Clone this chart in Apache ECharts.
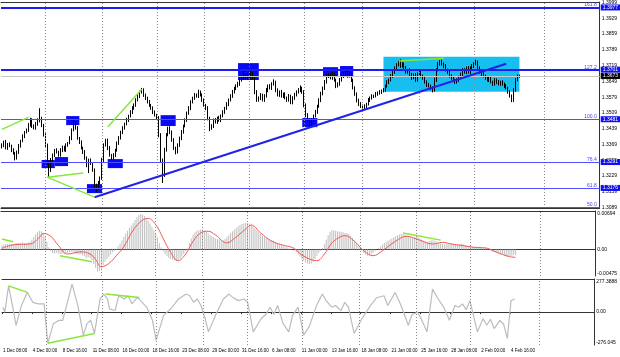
<!DOCTYPE html>
<html><head><meta charset="utf-8">
<script src="https://cdn.jsdelivr.net/npm/echarts@6/dist/echarts.min.js"></script>
<style>html,body{margin:0;padding:0;background:#fff}#c{width:620px;height:357px}</style>
</head><body><div id="c"></div>
<script>
// ---------- data ----------
const timeLabels = ['1 Dec 08:00','4 Dec 00:00','8 Dec 16:00','11 Dec 08:00','16 Dec 00:00','18 Dec 16:00','23 Dec 08:00','29 Dec 00:00','31 Dec 16:00','6 Jan 08:00','11 Jan 00:00','13 Jan 16:00','18 Jan 08:00','21 Jan 00:00','25 Jan 16:00','28 Jan 08:00','2 Feb 00:00','4 Feb 16:00'];
const priceTicks = [1.3089,1.3159,1.3229,1.3299,1.3369,1.3439,1.3509,1.3579,1.3649,1.3719,1.3789,1.3859,1.3929,1.3999];
const macdTickLabels = ['-0.00475','0.00','0.00694'];
const macdRange = [-0.00475, 0.00694];
const cciTickLabels = ['-276.045','0.00','277.3888'];
const cciRange = [-276.045, 277.3888];
const priceRange = [1.3087, 1.4001];

const firstOpen = 1.3358;
const close = [1.3366,1.3380,1.3353,1.3371,1.3362,1.3344,1.3331,1.3308,1.3335,1.3362,
1.3384,1.3406,1.3424,1.3433,1.3455,1.3477,1.3451,1.3442,1.3459,1.3473,
1.3486,1.3455,1.3411,1.3366,1.3291,1.3255,1.3300,1.3322,1.3344,1.3335,
1.3322,1.3344,1.3357,1.3344,1.3366,1.3375,1.3397,1.3433,1.3464,1.3442,
1.3397,1.3380,1.3353,1.3335,1.3308,1.3277,1.3300,1.3286,1.3255,1.3189,
1.3175,1.3198,1.3220,1.3300,1.3366,1.3388,1.3353,1.3322,1.3308,1.3322,
1.3344,1.3375,1.3397,1.3424,1.3442,1.3459,1.3477,1.3495,1.3513,1.3530,
1.3544,1.3566,1.3584,1.3602,1.3610,1.3588,1.3575,1.3557,1.3544,1.3530,
1.3513,1.3499,1.3486,1.3411,1.3300,1.3233,1.3344,1.3411,1.3442,1.3424,
1.3388,1.3353,1.3335,1.3366,1.3397,1.3424,1.3451,1.3477,1.3508,1.3530,
1.3557,1.3575,1.3588,1.3584,1.3602,1.3588,1.3566,1.3544,1.3530,1.3486,
1.3442,1.3451,1.3477,1.3468,1.3486,1.3477,1.3495,1.3513,1.3530,1.3548,
1.3566,1.3584,1.3602,1.3619,1.3628,1.3637,1.3655,1.3664,1.3673,1.3664,
1.3677,1.3668,1.3681,1.3664,1.3602,1.3566,1.3575,1.3588,1.3566,1.3584,
1.3610,1.3628,1.3619,1.3637,1.3646,1.3610,1.3588,1.3602,1.3584,1.3593,
1.3575,1.3566,1.3584,1.3557,1.3575,1.3588,1.3602,1.3610,1.3619,1.3602,
1.3544,1.3499,1.3477,1.3459,1.3477,1.3495,1.3513,1.3539,1.3566,1.3593,
1.3619,1.3646,1.3673,1.3677,1.3664,1.3681,1.3655,1.3628,1.3637,1.3655,
1.3673,1.3681,1.3690,1.3673,1.3681,1.3655,1.3619,1.3593,1.3566,1.3548,
1.3539,1.3530,1.3539,1.3548,1.3566,1.3575,1.3584,1.3584,1.3593,1.3597,
1.3602,1.3606,1.3610,1.3628,1.3646,1.3655,1.3673,1.3690,1.3708,1.3721,
1.3735,1.3717,1.3726,1.3708,1.3690,1.3699,1.3677,1.3664,1.3677,1.3655,
1.3681,1.3690,1.3673,1.3664,1.3646,1.3633,1.3628,1.3619,1.3610,1.3655,
1.3699,1.3726,1.3735,1.3726,1.3717,1.3699,1.3690,1.3673,1.3664,1.3655,
1.3646,1.3655,1.3664,1.3681,1.3699,1.3690,1.3708,1.3690,1.3708,1.3717,
1.3726,1.3735,1.3708,1.3690,1.3681,1.3673,1.3664,1.3655,1.3664,1.3646,
1.3637,1.3655,1.3646,1.3637,1.3646,1.3637,1.3628,1.3619,1.3602,1.3584,
1.3566,1.3610,1.3655,1.3673,1.3673];
// wick lengths in pips above the body / below the body
const wickUpPips = [8,6,9,5,7,6,8,5,7,9,6,8,5,7,9,10,8,7,10,12,44,6,5,8,7,
6,9,7,5,8,6,9,7,6,8,5,9,7,12,6,8,5,7,6,9,8,6,7,5,8,
6,9,7,10,8,6,7,9,5,8,6,7,9,6,8,7,10,6,8,9,7,8,9,6,10,
8,7,6,9,5,8,7,6,9,8,7,10,9,6,8,7,9,6,8,7,9,6,8,7,9,
8,6,9,7,10,6,8,7,5,9,6,8,7,9,6,10,7,8,6,9,7,8,9,6,8,
10,9,7,25,8,9,10,20,11,6,8,7,9,6,8,10,7,9,8,12,6,8,7,9,6,
8,7,9,6,8,10,7,9,12,6,8,7,9,6,8,7,9,6,8,10,7,9,8,10,7,
9,8,6,8,9,7,10,8,9,10,7,6,8,7,6,9,7,8,6,9,7,8,6,9,7,
8,7,9,6,8,7,9,10,8,9,6,12,8,7,9,6,8,10,7,9,8,7,9,6,8,
7,9,6,8,10,8,9,8,10,7,9,6,8,7,9,6,8,10,7,9,8,7,9,8,9,
8,10,6,8,7,9,6,8,7,9,6,8,7,9,6,8,7,9,6,8,7,9,8,7,6];
const wickDnPips = [7,9,6,8,5,9,7,10,6,8,7,5,9,6,8,7,9,6,8,7,6,9,7,8,10,
31,8,7,9,6,8,7,9,6,8,7,5,9,6,8,7,9,6,8,7,9,35,8,7,10,
17,9,7,8,10,6,9,7,8,6,9,7,8,6,9,7,5,8,6,9,7,8,6,9,7,
8,9,6,8,7,9,6,8,10,9,35,8,7,6,9,7,8,10,6,8,9,7,6,8,7,
9,6,8,7,9,6,8,7,9,10,14,8,9,6,8,7,9,6,8,7,9,6,8,7,9,
6,8,7,9,6,8,7,9,6,10,8,7,9,6,8,7,9,6,8,7,9,6,8,7,9,
6,8,7,9,10,8,6,7,9,8,10,9,8,13,7,9,6,8,7,9,6,8,7,9,6,
8,7,9,6,8,7,9,6,8,7,9,6,8,10,9,8,17,7,9,6,8,7,9,6,8,
7,9,6,8,7,9,6,8,7,9,6,8,7,9,6,8,7,9,6,8,7,9,6,8,7,
9,6,8,10,7,9,6,8,7,9,6,8,7,9,6,8,7,9,6,8,7,9,6,8,7,
9,6,8,7,9,6,8,7,9,6,8,7,9,6,8,7,9,6,8,7,9,8,7,6,8];

const macdHist = [0.0008,0.0009,0.0010,0.0010,0.0011,0.0010,0.0010,0.0011,0.0012,0.0012,
0.0012,0.0013,0.0012,0.0012,0.0013,0.0014,0.0018,0.0023,0.0028,0.0032,
0.0034,0.0033,0.0029,0.0024,0.0014,0.0004,-0.0003,-0.0006,-0.0007,-0.0006,
-0.0007,-0.0008,-0.0008,-0.0007,-0.0006,-0.0006,-0.0005,-0.0004,-0.0005,-0.0007,
-0.0008,-0.0009,-0.0008,-0.0010,-0.0012,-0.0015,-0.0014,-0.0015,-0.0019,-0.0026,
-0.0033,-0.0040,-0.0038,-0.0034,-0.0028,-0.0022,-0.0017,-0.0013,-0.0009,-0.0005,
-0.0002,0.0001,0.0006,0.0011,0.0017,0.0023,0.0029,0.0034,0.0039,0.0043,
0.0048,0.0053,0.0058,0.0062,0.0064,0.0063,0.0061,0.0057,0.0052,0.0047,
0.0041,0.0035,0.0029,0.0022,0.0012,0.0004,-0.0003,-0.0008,-0.0012,-0.0015,
-0.0017,-0.0018,-0.0019,-0.0020,-0.0019,-0.0017,-0.0013,-0.0008,-0.0003,0.0002,
0.0012,0.0020,0.0027,0.0031,0.0034,0.0035,0.0036,0.0036,0.0034,0.0032,
0.0029,0.0026,0.0024,0.0022,0.0020,0.0019,0.0018,0.0017,0.0017,0.0019,
0.0022,0.0026,0.0030,0.0033,0.0036,0.0039,0.0042,0.0044,0.0046,0.0047,
0.0048,0.0048,0.0047,0.0045,0.0042,0.0038,0.0034,0.0031,0.0028,0.0025,
0.0023,0.0021,0.0019,0.0018,0.0017,0.0016,0.0014,0.0012,0.0010,0.0009,
0.0007,0.0005,0.0004,0.0002,0.0001,0.0000,-0.0002,-0.0005,-0.0009,-0.0013,
-0.0017,-0.0020,-0.0023,-0.0025,-0.0026,-0.0025,-0.0022,-0.0017,-0.0011,-0.0006,
-0.0002,0.0003,0.0010,0.0018,0.0026,0.0032,0.0035,0.0035,0.0034,0.0033,
0.0032,0.0032,0.0031,0.0030,0.0030,0.0028,0.0025,0.0021,0.0016,0.0011,
0.0006,0.0002,-0.0002,-0.0006,-0.0009,-0.0011,-0.0011,-0.0009,-0.0006,-0.0003,
0.0000,0.0003,0.0006,0.0009,0.0012,0.0014,0.0016,0.0018,0.0020,0.0022,
0.0024,0.0026,0.0027,0.0028,0.0028,0.0027,0.0025,0.0023,0.0022,0.0021,
0.0022,0.0023,0.0022,0.0020,0.0018,0.0016,0.0015,0.0014,0.0015,0.0017,
0.0017,0.0016,0.0014,0.0012,0.0011,0.0010,0.0009,0.0010,0.0011,0.0012,
0.0011,0.0010,0.0009,0.0009,0.0010,0.0011,0.0010,0.0008,0.0007,0.0006,
0.0006,0.0005,0.0004,0.0004,0.0005,0.0004,0.0003,0.0003,0.0002,0.0001,
-0.0001,-0.0003,-0.0004,-0.0005,-0.0006,-0.0007,-0.0008,-0.0009,-0.0010,-0.0012,
-0.0013,-0.0012,-0.0011,-0.0010,-0.0010];
// signal line read at [bar index, value]
const macdSignal = [[0,0.00025],[7,0.0009],[15,0.0010],[20,0.0022],[22,0.0029],[26,0.0024],[30,0.0008],[35,-0.0008],[42,-0.0004],[47,-0.0008],[50,-0.0018],[53,-0.0031],[57,-0.0025],[61,-0.0011],[65,0.0005],[70,0.0035],[75,0.0053],[78,0.0056],[82,0.0045],[86,0.0020],[90,-0.0005],[94,-0.0020],[98,-0.0008],[102,0.0015],[106,0.0030],[110,0.0033],[114,0.0026],[120,0.0012],[124,0.0020],[130,0.0037],[133,0.0044],[138,0.0030],[144,0.0015],[150,0.0008],[156,0.0002],[160,-0.0010],[168,-0.0020],[172,-0.0008],[176,0.0012],[180,0.0022],[183,0.0025],[188,0.0015],[193,-0.0002],[198,-0.0011],[203,-0.0002],[210,0.0015],[216,0.0024],[222,0.0018],[230,0.0010],[235,0.0013],[240,0.0010],[246,0.0007],[252,0.0004],[258,0.0003],[264,-0.0005],[270,-0.0012],[274,-0.0014]];
// CCI read at [bar index, value]
const cci = [[0,41],[1,-1],[3,220],[5,60],[7,-111],[10,60],[13,165],[16,82],[19,69],[22,69],[24,-262],[27,-97],[30,-69],[32,-69],[37,234],[40,60],[43,-193],[45,-97],[47,-69],[49,-179],[52,110],[54,151],[56,110],[57,27],[60,13],[62,137],[65,110],[67,137],[69,69],[72,123],[73,123],[77,40],[80,-69],[82,-235],[86,-28],[90,30],[94,110],[98,151],[100,137],[102,82],[104,110],[106,55],[108,-40],[110,-166],[114,-20],[118,110],[121,151],[123,123],[126,96],[129,110],[131,82],[134,-166],[138,-60],[141,-14],[143,41],[145,-20],[147,55],[150,-97],[153,-166],[155,-30],[158,41],[161,-193],[164,-120],[168,60],[171,151],[173,96],[176,41],[178,55],[181,13],[183,82],[185,40],[188,-179],[192,-60],[197,60],[200,120],[204,137],[206,55],[210,165],[213,60],[217,-111],[219,-20],[222,-1],[224,-60],[227,-166],[230,192],[233,110],[236,40],[239,-69],[242,55],[244,41],[246,69],[248,20],[250,96],[254,-166],[257,-55],[259,-110],[261,-60],[263,-138],[266,-70],[268,-100],[270,-221],[272,96],[274,110]];

// Fibonacci levels
const levelNames = ['161.8','127.2','100.0','76.4','61.8','50.0'];
const levelPrices = [1.3977,1.3701,1.3481,1.3291,1.3176,1.3089];
const bidPrice = 1.3673;
// annotations in data space: [fromIndex, toIndex, priceTop, priceBottom]
const blueBoxes = [[21,28,1.3300,1.3264],[28,35,1.3313,1.3273],[34,41,1.3495,1.3455],[45,53,1.3193,1.3153],[56,64,1.3304,1.3264],[84,92,1.3499,1.3451],[125,136,1.3730,1.3655],[159,167,1.3486,1.3446],[170,178,1.3712,1.3668],[179,186,1.3717,1.3668]];
const rangeBox = [202,274,1.3758,1.3603];
const trendLine = [[49,1.3135],[267,1.3727]];
const priceDivLines = [[[0,1.3436],[14,1.3489]],[[24,1.3224],[43,1.3242]],[[24,1.3224],[49,1.3135]],[[56,1.3447],[74,1.3614]],[[210,1.3739],[234,1.3752]]];
const macdDivLines = [[[0,0.0019],[6,0.0014]],[[31,-0.0011],[48,-0.0022]],[[214,0.0030],[234,0.0017]]];
const cciDivLines = [[[3,220],[13,165]],[[24,-262],[49,-179]],[[55,151],[73,123]]];
const vGridIdx = [23,53,82,107,131,160,191,221,250,287];

// ---------- build ----------
const nSlots = 317;
const cats = Array.from({length:nSlots}, (_, i) => String(i));
const ohlc = close.map((c, i) => {
  const o = i === 0 ? firstOpen : close[i-1];
  const hi = Math.max(o, c) + wickUpPips[i] / 10000;
  const lo = Math.min(o, c) - wickDnPips[i] / 10000;
  return [o, c, lo, hi];
});

const FONT = 'Liberation Sans';
const GREEN = '#86e83a';
const vGrid = {symbol:['none','none'], silent:true, precision:6, label:{show:false},
  lineStyle:{color:'#8a8a8a', type:[1,2], width:1},
  data: vGridIdx.map(v => ({xAxis: v}))};

const levelItems = [];
levelPrices.forEach((p, k) => {
  const strong = k < 2;
  levelItems.push({yAxis: p, lineStyle:{color: strong ? '#1c1cf5' : '#5050ff', width: strong ? 2 : 1, type:'solid'},
    label:{show:true, position:'insideEndTop', formatter: levelNames[k], color:'#4444ff', fontSize:5, fontFamily:FONT, distance:[3,0]}});
});
levelItems.push({yAxis: bidPrice, lineStyle:{color:'#c8c8c8', width:1, type:'solid'}, label:{show:false}});
const segItems = (arr, color, width) => arr.map(s => [
  {coord: s[0], lineStyle:{color, width, type:'solid'}}, {coord: s[1]}]);
levelItems.push(...segItems([trendLine], '#2222e6', 2));
levelItems.push(...segItems(priceDivLines, GREEN, 1.5));

// right-axis price boxes
const hidden = {color:'rgba(0,0,0,0)', width:1, opacity:1, type:'solid'};
const boxItems = levelPrices.slice(0,5).map(p => ({yAxis: p, lineStyle:hidden,
  label:{show:true, position:'end', formatter: p.toFixed(4), color:'#fff', backgroundColor:'#1010f0', fontSize:5, fontFamily:FONT, padding:[1,2,0,2], distance:1}}));
boxItems.push({yAxis: bidPrice, lineStyle:hidden,
  label:{show:true, position:'end', formatter: bidPrice.toFixed(4), color:'#fff', backgroundColor:'#000', fontSize:5, fontFamily:FONT, padding:[1,2,0,2], distance:1}});

const showTick = (i) => i % 16 === 0 && i / 16 < timeLabels.length;
const xAxisBase = (grid, pos, showLabel) => ({
  type:'category', gridIndex:grid, position:pos, data:cats, boundaryGap:true,
  axisLine:{show:true, lineStyle:{color:'#333', width:1}},
  axisTick: showLabel ? {show:true, length:2, interval:showTick, lineStyle:{color:'#333'}} : {show:false},
  axisLabel: showLabel ? {show:true, align:'left', margin:3, fontSize:4.5, fontFamily:FONT, color:'#000',
    interval:showTick, formatter:(v, i)=> timeLabels[i/16] || ''} : {show:false},
  splitLine:{show:false}
});
const yAxisBase = (grid, range, ticks, fmt, edgeAlign) => ({
  type:'value', gridIndex:grid, position:'right', min:range[0], max:range[1], scale:true,
  axisLine:{show:true, lineStyle:{color:'#333', width:1}},
  axisTick:{show:false},
  axisLabel:Object.assign({show:true, margin:2, fontSize:5, fontFamily:FONT, color:'#000', customValues:ticks, formatter:fmt},
    edgeAlign ? {verticalAlignMaxLabel:'top', verticalAlignMinLabel:'bottom'} : {}),
  splitLine:{show:false}
});

const option = {
  animation:false,
  backgroundColor:'#fff',
  grid:[
    {left:1, width:605, top:2, height:206},
    {left:1, width:605, top:211, height:65},
    {left:1, width:605, top:279, height:66}
  ],
  xAxis:[
    xAxisBase(0,'bottom',false), xAxisBase(0,'top',false),
    xAxisBase(1,'bottom',false), xAxisBase(1,'top',false),
    xAxisBase(2,'bottom',true), xAxisBase(2,'top',false)
  ],
  yAxis:[
    yAxisBase(0, priceRange, priceTicks, v => v.toFixed(4), false),
    yAxisBase(1, macdRange, [macdRange[0], 0, macdRange[1]], v => v === 0 ? macdTickLabels[1] : (v > 0 ? macdTickLabels[2] : macdTickLabels[0]), true),
    yAxisBase(2, cciRange, [cciRange[0], 0, cciRange[1]], v => v === 0 ? cciTickLabels[1] : (v > 0 ? cciTickLabels[2] : cciTickLabels[0]), true)
  ],
  series:[
    {type:'line', xAxisIndex:0, yAxisIndex:0, data:[], z:1, silent:true,
      markArea:{silent:true, label:{show:false}, itemStyle:{color:'#17bff0', opacity:1},
        data:[[{xAxis:rangeBox[0], yAxis:rangeBox[2]},{xAxis:rangeBox[1], yAxis:rangeBox[3]}]]},
      markLine: vGrid},
    {type:'candlestick', xAxisIndex:0, yAxisIndex:0, data:ohlc, z:2, barWidth:1.2,
      itemStyle:{color:'#ffffff', color0:'#000000', borderColor:'#000000', borderColor0:'#000000', borderWidth:1}},
    {type:'line', xAxisIndex:0, yAxisIndex:0, data:[], z:4, silent:true,
      markArea:{silent:true, label:{show:false}, itemStyle:{color:'#0a0af2', opacity:1},
        data: blueBoxes.map(b => [{xAxis:b[0], yAxis:b[2]},{xAxis:b[1], yAxis:b[3]}])},
      markLine:{symbol:['none','none'], silent:true, precision:6, label:{show:false}, data: levelItems}},
    {type:'line', xAxisIndex:0, yAxisIndex:0, data:[], z:6, silent:true, clip:false,
      markLine:{symbol:['none','none'], silent:true, precision:6, label:{show:false}, data: boxItems}},
    {type:'bar', xAxisIndex:2, yAxisIndex:1, data:macdHist, barWidth:1, itemStyle:{color:'#c0c0c0'}, z:2,
      markLine: vGrid},
    {type:'line', xAxisIndex:2, yAxisIndex:1, data:macdSignal, smooth:0.4, showSymbol:false, z:3,
      lineStyle:{color:'#f05a5a', width:1},
      markLine:{symbol:['none','none'], silent:true, precision:6, label:{show:false}, data: segItems(macdDivLines, GREEN, 1.5)}},
    {type:'line', xAxisIndex:4, yAxisIndex:2, data:cci, showSymbol:false, z:3,
      lineStyle:{color:'#bcbcbc', width:1.2},
      markLine:{symbol:['none','none'], silent:true, precision:6, label:{show:false}, data: segItems(cciDivLines, GREEN, 1.5)}},
    {type:'line', xAxisIndex:4, yAxisIndex:2, data:[], z:1, silent:true, markLine: vGrid}
  ]
};
echarts.init(document.getElementById('c'), null, {renderer:'canvas'}).setOption(option);
</script>
</body></html>
